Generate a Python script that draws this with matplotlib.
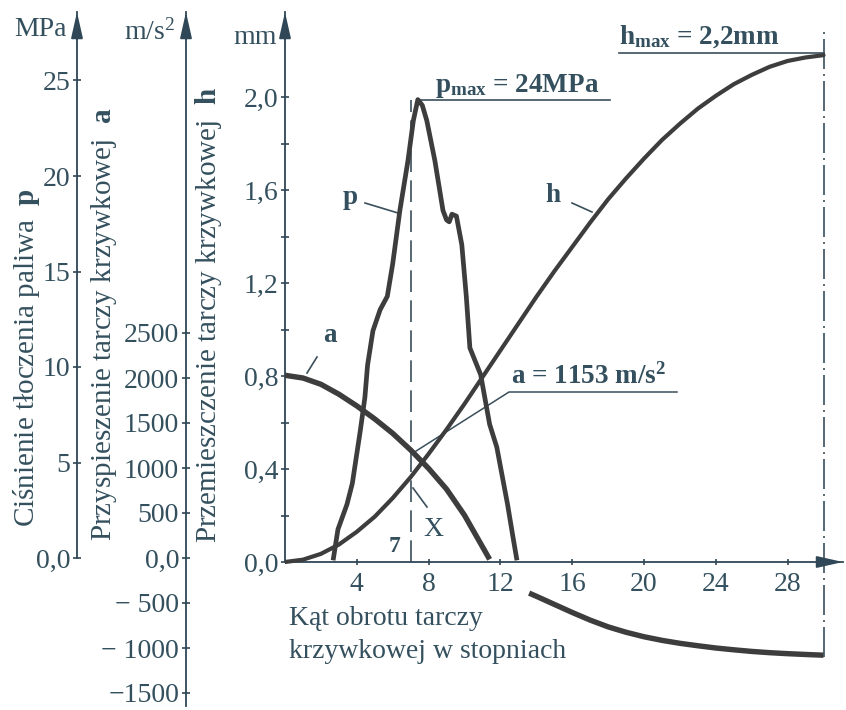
import numpy as np
import matplotlib
matplotlib.use("Agg")
import matplotlib.pyplot as plt

# ---------------- data ----------------
# cam displacement h [mm] vs cam angle [deg]
h_x = [0, 1, 2, 3, 4, 5, 6, 7, 8, 9, 10, 11, 12, 13, 14, 15, 16, 17, 18, 19, 20,
       21, 22, 23, 24, 25, 26, 27, 28, 29, 30]
h_mm = [0.0, 0.01, 0.035, 0.075, 0.13, 0.195, 0.275, 0.365, 0.465, 0.57, 0.68,
        0.795, 0.91, 1.025, 1.14, 1.25, 1.355, 1.46, 1.56, 1.65, 1.735, 1.815,
        1.885, 1.95, 2.005, 2.055, 2.095, 2.13, 2.155, 2.17, 2.18]

# cam acceleration a [m/s^2] (gap where the curve is hidden under the axis labels)
a_x = [0, 1, 2, 3, 4, 5, 6, 7, 8, 9, 10, 11, 11.4, 12.5, 13.6, 14, 15, 16, 17,
       18, 19, 20, 21, 22, 23, 24, 25, 26, 27, 28, 29, 30]
a_ms2 = [2030, 2000, 1930, 1820, 1690, 1545, 1385, 1200, 995, 765, 475, 125,
         -15, np.nan, -390, -425, -515, -605, -690, -765, -825, -875, -915,
         -948, -975, -1000, -1020, -1038, -1052, -1063, -1072, -1080]

# fuel injection pressure p [MPa]
p_x = [2.7, 2.95, 3.45, 3.75, 4.2, 4.45, 4.6, 4.9, 5.3, 5.7, 6.0, 6.4, 6.85,
       7.15, 7.4, 7.65, 7.9, 8.35, 8.8, 9.0, 9.15, 9.3, 9.55, 9.85, 10.1, 10.3,
       10.9, 11.4, 11.8, 12.4, 12.7, 12.9]
p_mpa = [0, 1.5, 2.8, 3.9, 6.7, 8.4, 10.1, 11.9, 13.0, 13.7, 15.4, 18.2, 20.8,
         22.9, 24.0, 23.7, 22.9, 20.8, 18.2, 17.7, 17.6, 18.0, 17.9, 16.4, 13.7,
         11.0, 9.6, 7.0, 5.8, 2.8, 1.1, 0]

x_ticks = [4, 8, 12, 16, 20, 24, 28]
h_ticks = [0.0, 0.4, 0.8, 1.2, 1.6, 2.0]
h_minor = [0.2, 0.6, 1.0, 1.4, 1.8]
h_ticklabels = ["0,0", "0,4", "0,8", "1,2", "1,6", "2,0"]
a_ticks = [-1500, -1000, -500, 0, 500, 1000, 1500, 2000, 2500]
a_ticklabels = ["\u22121500", "\u2212 1000", "\u2212 500", "0,0", "500", "1000",
                "1500", "2000", "2500"]
p_ticks = [0, 5, 10, 15, 20, 25]
p_ticklabels = ["0,0", "5", "10", "15", "20", "25"]

p_max_x, p_max_val = 7.4, 24
x_marker = 7
h_end_x = 30

# ---------------- style ----------------
plt.rcParams["font.family"] = ["Liberation Serif", "DejaVu Serif"]
plt.rcParams["mathtext.fontset"] = "custom"
plt.rcParams["mathtext.rm"] = "Liberation Serif"
plt.rcParams["mathtext.bf"] = "Liberation Serif:bold"
plt.rcParams["mathtext.it"] = "Liberation Serif:italic"

AXC = "#2f4756"     # axis lines
TXC = "#34505e"     # text
CRV = "#3d3d3d"     # curves
FS = 20
FT = 21
FA = 19.5

W, H = 846, 710
fig = plt.figure(figsize=(W / 100, H / 100), dpi=100)
fig.patch.set_facecolor("white")

AX_L, AX_R, AX_T, AX_B = 285, 843, 12, 706
XPX = 17.95               # px per degree
H0, HPX = 562, 232.5      # h axis zero (px) and px per mm
A0, APX = 558, 0.09       # a axis zero (px) and px per m/s^2
P0, PPX = 558, 19.1       # p axis zero (px) and px per MPa

def fxp(px):
    return px / W

def fyp(py):
    return 1 - py / H

def dx(px):
    return (px - AX_L) / XPX

def dh(py):
    return (H0 - py) / HPX

ax = fig.add_axes([AX_L / W, 1 - AX_B / H, (AX_R - AX_L) / W, (AX_B - AX_T) / H])
ax.set_facecolor("none")
ax.set_xlim(0, (AX_R - AX_L) / XPX)
ax.set_ylim((H0 - AX_B) / HPX, (H0 - AX_T) / HPX)
hmax_lim = (H0 - AX_T) / HPX

ax_a = ax.twinx()
ax_a.set_ylim((A0 - AX_B) / APX, (A0 - AX_T) / APX)
ax_p = ax.twinx()
ax_p.set_ylim((P0 - AX_B) / PPX, (P0 - AX_T) / PPX)

# spines
for s in ["top", "right"]:
    ax.spines[s].set_visible(False)
ax.spines["bottom"].set_position(("data", 0))
ax.spines["bottom"].set_bounds(0, (AX_R - AX_L) / XPX)
ax.spines["left"].set_bounds(0, hmax_lim)
for s in ["left", "bottom"]:
    ax.spines[s].set_color(AXC)
    ax.spines[s].set_linewidth(1.3)

pos_a = (186 - AX_L) / (AX_R - AX_L)
pos_p = (77 - AX_L) / (AX_R - AX_L)
for axx, pos, lo in [(ax_a, pos_a, None), (ax_p, pos_p, 0)]:
    for s in ["top", "right", "bottom"]:
        axx.spines[s].set_visible(False)
    axx.spines["left"].set_visible(True)
    axx.spines["left"].set_position(("axes", pos))
    axx.spines["left"].set_color(AXC)
    axx.spines["left"].set_linewidth(1.3)
    axx.yaxis.tick_left()
    yl = axx.get_ylim()
    axx.spines["left"].set_bounds(yl[0] if lo is None else lo, yl[1])

# ticks
ax.set_xticks(x_ticks)
ax.set_xticklabels([str(v) for v in x_ticks])
ax.tick_params(axis="x", direction="inout", length=5, width=1.2, color=AXC,
               labelcolor=TXC, labelsize=FS, pad=5)
ax.set_yticks(h_ticks)
ax.set_yticklabels(h_ticklabels)
ax.set_yticks(h_minor, minor=True)
ax.tick_params(axis="y", which="both", direction="inout", length=6, width=1.2,
               color=AXC, labelcolor=TXC, labelsize=FS, pad=2)
ax_a.set_yticks(a_ticks)
ax_a.set_yticklabels(a_ticklabels)
ax_a.tick_params(axis="y", direction="inout", length=6, width=1.2, color=AXC,
                 labelcolor=TXC, labelsize=FS, pad=2)
ax_p.set_yticks(p_ticks)
ax_p.set_yticklabels(p_ticklabels)
ax_p.tick_params(axis="y", direction="inout", length=6, width=1.2, color=AXC,
                 labelcolor=TXC, labelsize=FS, pad=2)

# arrows on axes
arrow_kw = dict(arrowstyle="-|>,head_length=0.8,head_width=0.18", color=AXC,
                lw=1.3, mutation_scale=20, shrinkA=0, shrinkB=0)
for xpos in [0, pos_a, pos_p]:
    ax.annotate("", xy=(xpos, 1.0), xycoords="axes fraction",
                xytext=(xpos, 0.96), textcoords="axes fraction",
                arrowprops=arrow_kw, annotation_clip=False)
ax.annotate("", xy=(1.0, 0), xycoords=("axes fraction", "data"),
            xytext=(0.97, 0), textcoords=("axes fraction", "data"),
            arrowprops=arrow_kw, annotation_clip=False)

# curves
ax.plot(h_x, h_mm, color=CRV, lw=3.0, solid_capstyle="round", zorder=4)
ax_a.plot(a_x, a_ms2, color=CRV, lw=3.9, solid_capstyle="butt",
          solid_joinstyle="round", zorder=4)
ax_p.plot(p_x, p_mpa, color=CRV, lw=3.4, solid_joinstyle="round", zorder=4)

# helper lines
LC = "#3a4f5c"
p_peak_mm = dh(P0 - p_max_val * PPX)
ax.plot([x_marker, x_marker], [0, p_peak_mm], color=LC, lw=1.2,
        dashes=(13, 5), zorder=2)
ax.plot([p_max_x, dx(610)], [p_peak_mm, p_peak_mm], color=LC, lw=1.2)
ax.plot([dx(619), h_end_x], [dh(53), dh(53)], color=LC, lw=1.2)
ax.plot([h_end_x, h_end_x], [dh(657), dh(30)], color=LC, lw=1.2,
        dashes=(18, 3, 1.2, 3), zorder=2)
ax.plot([dx(413), dx(509), dx(677)], [dh(453), dh(392), dh(392)],
        color=LC, lw=1.1)
# label leaders
ax.plot([dx(365), dx(398)], [dh(203), dh(213)], color=LC, lw=1.2)
ax.plot([dx(572), dx(592)], [dh(203), dh(212)], color=LC, lw=1.2)
ax.plot([dx(317), dx(307)], [dh(357), dh(373)], color=LC, lw=1.2)
ax.plot([dx(413), dx(427)], [dh(488), dh(507)], color=LC, lw=1.2)

# annotations
tk = dict(color=TXC, va="center")
fig.text(fxp(435), fyp(86), r"$\mathbf{p}_{\mathbf{max}}$ = 24MPa",
         fontsize=FA, fontweight="bold", ha="left", **tk)
fig.text(fxp(619), fyp(37), r"$\mathbf{h}_{\mathbf{max}}$ = 2,2mm",
         fontsize=FA, fontweight="bold", ha="left", **tk)
fig.text(fxp(511), fyp(376), r"a = 1153 m/s$^{\mathbf{2}}$",
         fontsize=FA, fontweight="bold", ha="left", **tk)
fig.text(fxp(350), fyp(197), "p", fontsize=FA, fontweight="bold", ha="center", **tk)
fig.text(fxp(553), fyp(196), "h", fontsize=FA, fontweight="bold", ha="center", **tk)
fig.text(fxp(330), fyp(335), "a", fontsize=FA, fontweight="bold", ha="center", **tk)
fig.text(fxp(433), fyp(530), "X", fontsize=FS, ha="center", **tk)
fig.text(fxp(395), fyp(546), "7", fontsize=17, fontweight="bold", ha="center", **tk)

# units
fig.text(fxp(40), fyp(30), "MPa", fontsize=FS, ha="center", **tk)
fig.text(fxp(150), fyp(32), r"m/s$^2$", fontsize=FS, ha="center", **tk)
fig.text(fxp(255), fyp(37), "mm", fontsize=FS, ha="center", **tk)

# axis titles
fig.text(fxp(27), fyp(358), r"Ciśnienie tłoczenia paliwa  $\mathbf{p}$",
         fontsize=FT, rotation=90, ha="center", **tk)
fig.text(fxp(104), fyp(324), r"Przyspieszenie tarczy krzywkowej  $\mathbf{a}$",
         fontsize=FT, rotation=90, ha="center", **tk)
fig.text(fxp(208), fyp(315), r"Przemieszczenie tarczy krzywkowej  $\mathbf{h}$",
         fontsize=FT, rotation=90, ha="center", **tk)
fig.text(fxp(289), fyp(606), "Kąt obrotu tarczy\nkrzywkowej w stopniach",
         fontsize=FS, ha="left", va="top", color=TXC, linespacing=1.4)

fig.savefig("out.png", dpi=100, facecolor="white")
